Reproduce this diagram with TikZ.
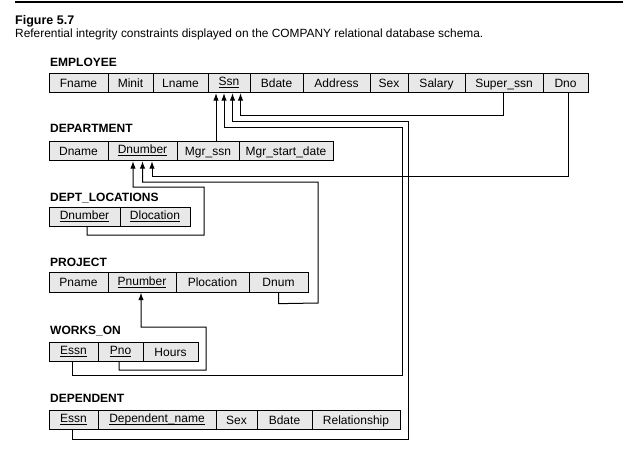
\documentclass[tikz,border=0pt]{standalone}
\usepackage{fontspec}
\setmainfont{Liberation Sans}
\usetikzlibrary{arrows.meta}
\newcommand\keyul[1]{\raisebox{1.5pt}{\setbox0\hbox{#1}\rlap{\rule[-2.6pt]{\wd0}{0.7pt}}\box0}}
\tikzset{
  cell/.style={draw=black, fill=black!9, line width=0.8pt, inner sep=0pt,
    minimum height=19.5pt, text height=8.6pt, text depth=0.6pt,
    font=\fontsize{12}{14}\selectfont},
  rel/.style={anchor=base west, inner sep=0pt, font=\fontsize{12}{14}\selectfont\bfseries},
  arr/.style={line width=1pt, -{Latex[length=7.5pt,width=5.4pt]}},
}
\begin{document}
\begin{tikzpicture}[x=1pt,y=-1pt]
\useasboundingbox (0,0) rectangle (634,469);
\draw[line width=1.5pt] (15,2) -- (623,2);
\node[anchor=base west, font=\fontsize{12.5}{14}\selectfont\bfseries, inner sep=0pt] (fig) at (15,24) {Figure 5.7};
\node[anchor=base west, font=\fontsize{11.9}{13}\selectfont, inner sep=0pt] (cap) at (15,37) {Referential integrity constraints displayed on the COMPANY relational database schema.};

% EMPLOYEE
\node[rel] (lemp) at (50,66.5) {EMPLOYEE};
\node[cell, minimum width=59pt] (efname) at (78.5,83) {Fname};
\node[cell, minimum width=45pt] (eminit) at (130.5,83) {Minit};
\node[cell, minimum width=55pt] (elname) at (180.5,83) {Lname};
\node[cell, minimum width=42pt] (essn) at (229,83) {\keyul{Ssn}};
\node[cell, minimum width=53pt] (ebdate) at (276.5,83) {Bdate};
\node[cell, minimum width=67pt] (eaddr) at (336.5,83) {Address};
\node[cell, minimum width=38pt] (esex) at (389,83) {Sex};
\node[cell, minimum width=57pt] (esal) at (436.5,83) {Salary};
\node[cell, minimum width=78pt] (esup) at (504,83) {Super\_ssn};
\node[cell, minimum width=45pt] (edno) at (565.5,83) {Dno};

% DEPARTMENT
\node[rel] (ldep) at (50,132.5) {DEPARTMENT};
\node[cell, minimum width=59pt] (dname) at (78.5,151) {Dname};
\node[cell, minimum width=69pt] (ddnum) at (142.5,151) {\keyul{Dnumber}};
\node[cell, minimum width=62pt] (dmgr) at (208,151) {Mgr\_ssn};
\node[cell, minimum width=94pt] (dmsd) at (286,151) {Mgr\_start\_date};

% DEPT_LOCATIONS
\node[rel] (lloc) at (50,201.5) {DEPT\_LOCATIONS};
\node[cell, minimum width=71pt] (ldnum) at (84.5,217) {\keyul{Dnumber}};
\node[cell, minimum width=70pt] (lloca) at (155,217) {\keyul{Dlocation}};

% PROJECT
\node[rel] (lproj) at (50,266.5) {PROJECT};
\node[cell, minimum width=59pt] (pname) at (78.5,282.5) {Pname};
\node[cell, minimum width=68pt] (pnum) at (142,282.5) {\keyul{Pnumber}};
\node[cell, minimum width=73pt] (ploc) at (212.5,282.5) {Plocation};
\node[cell, minimum width=59pt] (pdnum) at (278.5,282.5) {Dnum};

% WORKS_ON
\node[rel] (lwork) at (50,334.5) {WORKS\_ON};
\node[cell, minimum width=49pt] (wessn) at (73.5,352) {\keyul{Essn}};
\node[cell, minimum width=45pt] (wpno) at (120.5,352) {\keyul{Pno}};
\node[cell, minimum width=55pt] (whours) at (170.5,352) {Hours};

% DEPENDENT
\node[rel] (ldepn) at (50,402.5) {DEPENDENT};
\node[cell, minimum width=49pt] (dessn) at (73.5,420) {\keyul{Essn}};
\node[cell, minimum width=118pt] (ddname) at (157,420) {\keyul{Dependent\_name}};
\node[cell, minimum width=41pt] (dsex) at (236.5,420) {Sex};
\node[cell, minimum width=55pt] (dbdate) at (284.5,420) {Bdate};
\node[cell, minimum width=88pt] (drel) at (356,420) {Relationship};

% arrow tip points
\coordinate (t1) at ([xshift=-13pt]essn.south);
\coordinate (t2) at ([xshift=-5pt]essn.south);
\coordinate (t3) at ([xshift=3.5pt]essn.south);
\coordinate (t4) at ([xshift=11.5pt]essn.south);
\coordinate (u1) at ([xshift=-9.5pt]ddnum.south);
\coordinate (u2) at ([xshift=0pt]ddnum.south);
\coordinate (u3) at ([xshift=9.5pt]ddnum.south);

% connectors
\draw[arr] (dmgr.north -| t1) -- (t1);
\draw[arr] ([xshift=-1.5pt]wessn.south) |- (402,375) -- (402,127) -| (t2);
\draw[arr] ([xshift=-1.5pt]dessn.south) |- (408,439) -- (408,121) -| (t3);
\draw[arr] ([xshift=-1pt]esup.south) -- ++(0,22) -| (t4);
\draw[arr] ([xshift=2.5pt]edno.south) -- (568,176) -| (u3);
\draw[arr] (pdnum.south) -- ++(0,11) -- (318,303) -- (318,182) -| (u2);
\draw[arr] ([xshift=2.5pt]ldnum.south) -- ++(0,8) -- (204,235) -- (204,187) -| (u1);
\draw[arr] ([xshift=-1.5pt]wpno.south) -- ++(0,8) -- (206,370) -- (206,327) -| ([xshift=-1pt]pnum.south);
\end{tikzpicture}
\end{document}
